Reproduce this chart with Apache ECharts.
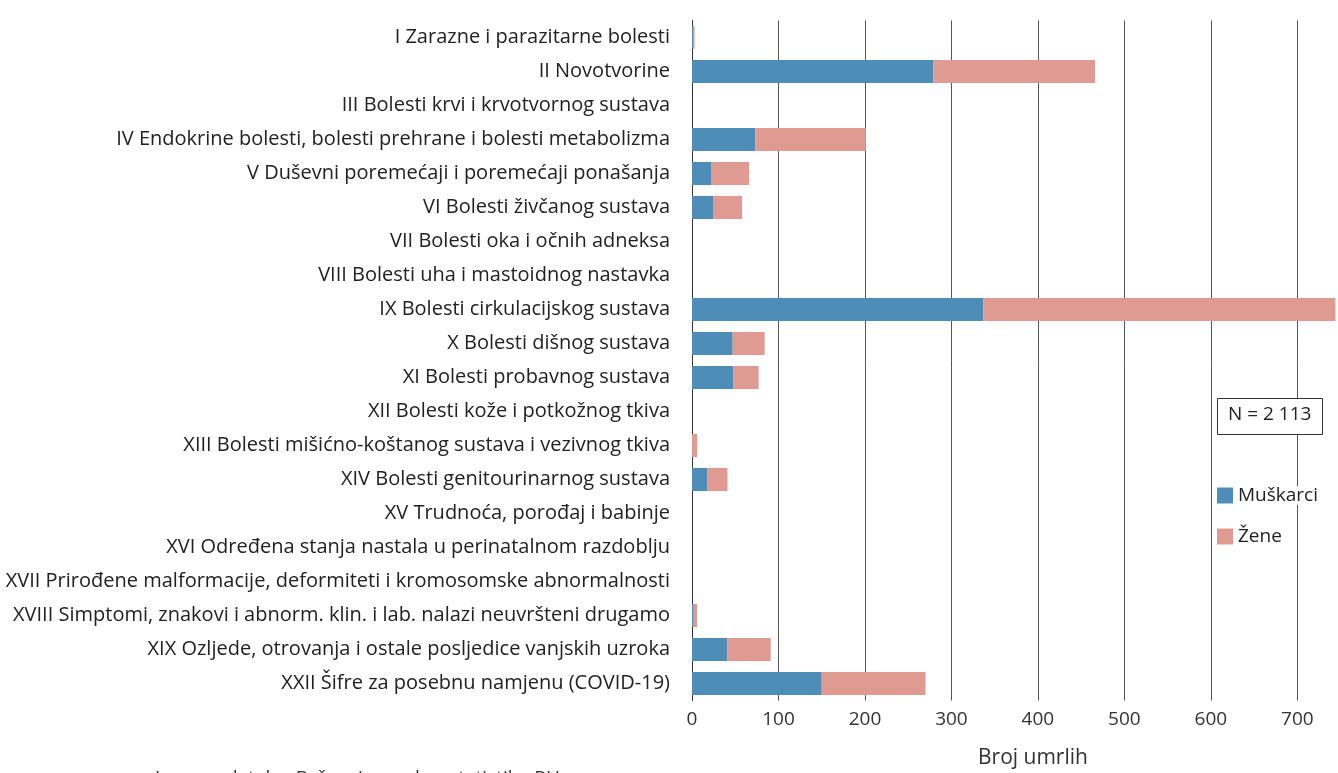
<!DOCTYPE html>
<html>
<head>
<meta charset="utf-8">
<script src="https://cdn.jsdelivr.net/npm/echarts@6/dist/echarts.min.js"></script>
<style>
  html, body { margin: 0; padding: 0; background: #fff; }
  #chart { width: 1338px; height: 773px; }
</style>
</head>
<body>
<div id="chart"></div>
<script>
const categories = [
  "I Zarazne i parazitarne bolesti",
  "II Novotvorine",
  "III Bolesti krvi i krvotvornog sustava",
  "IV Endokrine bolesti, bolesti prehrane i bolesti metabolizma",
  "V Duševni poremećaji i poremećaji ponašanja",
  "VI Bolesti živčanog sustava",
  "VII Bolesti oka i očnih adneksa",
  "VIII Bolesti uha i mastoidnog nastavka",
  "IX Bolesti cirkulacijskog sustava",
  "X Bolesti dišnog sustava",
  "XI Bolesti probavnog sustava",
  "XII Bolesti kože i potkožnog tkiva",
  "XIII Bolesti mišićno-koštanog sustava i vezivnog tkiva",
  "XIV Bolesti genitourinarnog sustava",
  "XV Trudnoća, porođaj i babinje",
  "XVI Određena stanja nastala u perinatalnom razdoblju",
  "XVII Prirođene malformacije, deformiteti i kromosomske abnormalnosti",
  "XVIII Simptomi, znakovi i abnorm. klin. i lab. nalazi neuvršteni drugamo",
  "XIX Ozljede, otrovanja i ostale posljedice vanjskih uzroka",
  "XXII Šifre za posebnu namjenu (COVID-19)"
];
const muskarci = [1, 279, 0, 73, 22, 25, 0, 0, 337, 47, 48, 0, 0, 18, 0, 0, 0, 2, 41, 150];
const zene = [2, 187, 0, 128, 44, 33, 0, 0, 407, 37, 29, 0, 6, 23, 0, 0, 0, 4, 50, 120];
const seriesNames = ["Muškarci", "Žene"];
const colors = ["#4d8db8", "#df9b92"];

const font = "'Open Sans', Roboto, sans-serif";
const myChart = echarts.init(document.getElementById("chart"));

const option = {
  animation: false,
  textStyle: { fontFamily: font },
  grid: { left: 692, right: 0, top: 20.5, bottom: 72.5 },
  legend: {
    orient: "vertical",
    left: 1212,
    top: 481,
    itemWidth: 16,
    itemHeight: 16,
    itemGap: 22,
    icon: "rect",
    data: seriesNames,
    textStyle: {
      fontFamily: font,
      fontSize: 19,
      color: "#222",
      backgroundColor: "#fff",
      padding: [0, 2, 0, 0]
    }
  },
  xAxis: {
    type: "value",
    min: 0,
    max: 747,
    interval: 100,
    axisLine: { show: false },
    axisTick: { show: false },
    axisLabel: {
      fontSize: 19,
      color: "#333",
      margin: 10,
      showMaxLabel: false
    },
    splitLine: { lineStyle: { color: "#555", width: 1 } }
  },
  yAxis: {
    type: "category",
    inverse: true,
    data: categories,
    axisLine: { show: true, lineStyle: { color: "#333", width: 1 } },
    axisTick: { show: false },
    axisLabel: { fontSize: 20, color: "#222", margin: 22 }
  },
  graphic: [
    {
      type: "rect",
      left: 1217,
      top: 398,
      shape: { width: 105, height: 36 },
      style: { fill: "#fff", stroke: "#333", lineWidth: 1 },
      z: 100
    },
    {
      type: "text",
      left: 1228,
      top: 405,
      style: { text: "N = 2 113", font: "19px " + font, fill: "#222" },
      z: 101
    },
    {
      type: "text",
      left: 978,
      top: 748,
      style: { text: "Broj umrlih", font: "21px " + font, fill: "#333" },
      z: 101
    },
    {
      type: "text",
      left: 155,
      top: 769,
      style: { text: "Izvor podataka: Državni zavod za statistiku RH", font: "19px " + font, fill: "#333" },
      z: 101
    }
  ],
  series: [muskarci, zene].map((data, i) => ({
    name: seriesNames[i],
    type: "bar",
    stack: "total",
    data: data,
    barCategoryGap: "32%",
    itemStyle: { color: colors[i] }
  }))
};

myChart.setOption(option);
</script>
</body>
</html>
